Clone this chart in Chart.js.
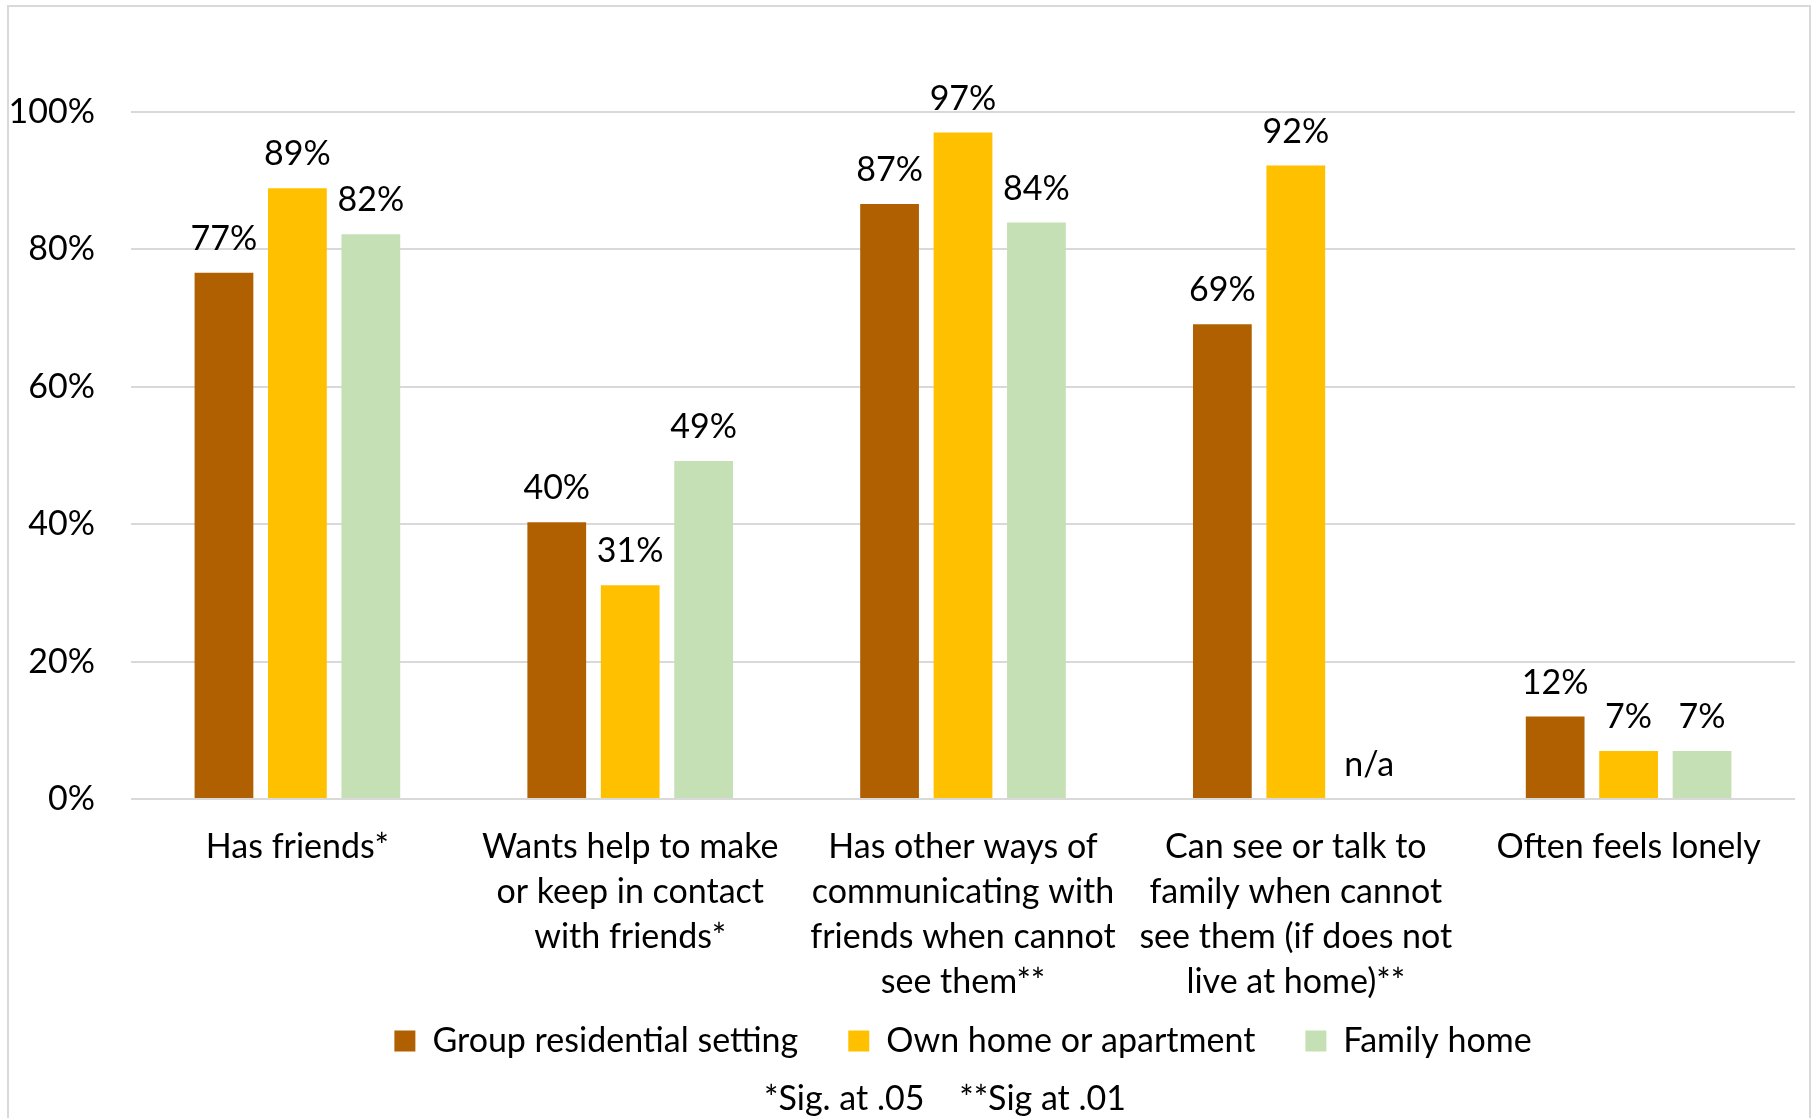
<!DOCTYPE html>
<html>
<head>
<meta charset="utf-8">
<script src="https://cdn.jsdelivr.net/npm/chart.js@4/dist/chart.umd.min.js"></script>
<style>
  html, body { margin: 0; padding: 0; background: #fff; }
  #wrap { position: relative; width: 1818px; height: 1118px; overflow: hidden; }
  #frame { position: absolute; left: 7px; top: 5px; width: 1804px; height: 1130px; border: 2px solid #d9d9d9; box-sizing: border-box; pointer-events: none; }
  canvas { position: absolute; left: 0; top: 0; }
</style>
</head>
<body>
<div id="wrap">
  <canvas id="c" width="1818" height="1118"></canvas>
  <div id="frame"></div>
</div>
<script>
// ---- data ----
const categories = [
  ["Has friends*"],
  ["Wants help to make", "or keep in contact", "with friends*"],
  ["Has other ways of", "communicating with", "friends when cannot", "see them**"],
  ["Can see or talk to", "family when cannot", "see them (if does not", "live at home)**"],
  ["Often feels lonely"]
];
const seriesNames = ["Group residential setting", "Own home or apartment", "Family home"];
const groupResidential = [76.6, 40.3, 86.6, 69.1, 12.0];
const ownHome = [88.9, 31.1, 97.0, 92.2, 7.0];
const familyHome = [82.2, 49.2, 83.9, null, 7.0];
const yTickValues = [0, 20, 40, 60, 80, 100];
const missingLabel = "n/a";
const footnote = "*Sig. at .05    **Sig at .01";

// ---- styles ----
const colors = ["#B06000", "#FFC000", "#C5E0B4"];
const FONT = "Lato, 'Open Sans', sans-serif";
const FS = 34;

const dataLabels = {
  id: 'dataLabels',
  afterDatasetsDraw(chart) {
    const ctx = chart.ctx;
    const yScale = chart.scales.y;
    ctx.save();
    ctx.font = FS + "px " + FONT;
    ctx.fillStyle = "#000";
    ctx.textAlign = "center";
    ctx.textBaseline = "middle";
    chart.data.datasets.forEach((ds, di) => {
      const meta = chart.getDatasetMeta(di);
      meta.data.forEach((el, i) => {
        const v = ds.data[i];
        if (v === null || v === undefined) {
          ctx.fillText(missingLabel, el.x, yScale.getPixelForValue(0) - 34);
        } else {
          ctx.fillText(Math.round(v) + "%", el.x, yScale.getPixelForValue(v) - 34);
        }
      });
    });
    ctx.restore();
  }
};

const footnotePlugin = {
  id: 'footnote',
  afterLayout(chart) {
    // let multi-line category labels draw past the legend's top edge
    chart.scales.x.bottom = chart.height;
  },
  afterDraw(chart) {
    const ctx = chart.ctx;
    ctx.save();
    ctx.font = FS + "px " + FONT;
    ctx.fillStyle = "#000";
    ctx.textAlign = "center";
    ctx.textBaseline = "middle";
    ctx.fillText(footnote, 945, 1099);
    ctx.restore();
  }
};

new Chart(document.getElementById('c'), {
  type: 'bar',
  data: {
    labels: categories,
    datasets: [
      { label: seriesNames[0], data: groupResidential, backgroundColor: colors[0] },
      { label: seriesNames[1], data: ownHome, backgroundColor: colors[1] },
      { label: seriesNames[2], data: familyHome, backgroundColor: colors[2] }
    ]
  },
  options: {
    responsive: false,
    animation: false,
    devicePixelRatio: 1,
    layout: { padding: { top: 112, left: 0, right: 23, bottom: 50 } },
    datasets: { bar: { categoryPercentage: 0.662, barPercentage: 0.8 } },
    scales: {
      x: {
        grid: { display: false, drawTicks: false },
        border: { display: false },
        ticks: {
          color: "#000",
          padding: 26,
          maxRotation: 0,
          autoSkip: false,
          font: { family: FONT, size: FS, lineHeight: 45 / FS }
        },
        afterFit(scale) { scale.height = 175; }
      },
      y: {
        min: 0,
        max: 100,
        afterBuildTicks(scale) { scale.ticks = yTickValues.map(v => ({ value: v })); },
        grid: { color: "#d9d9d9", lineWidth: 2, drawTicks: false },
        border: { display: false },
        ticks: {
          color: "#000",
          padding: 36,
          font: { family: FONT, size: FS },
          callback: v => v + "%"
        },
        afterFit(scale) { scale.width = 131; }
      }
    },
    plugins: {
      legend: {
        position: 'bottom',
        fullSize: false,
        labels: {
          color: "#000",
          boxWidth: 21,
          boxHeight: 21,
          padding: 50,
          font: { family: FONT, size: FS }
        }
      },
      tooltip: { enabled: false },
      title: { display: false }
    }
  },
  plugins: [dataLabels, footnotePlugin]
});
</script>
</body>
</html>
